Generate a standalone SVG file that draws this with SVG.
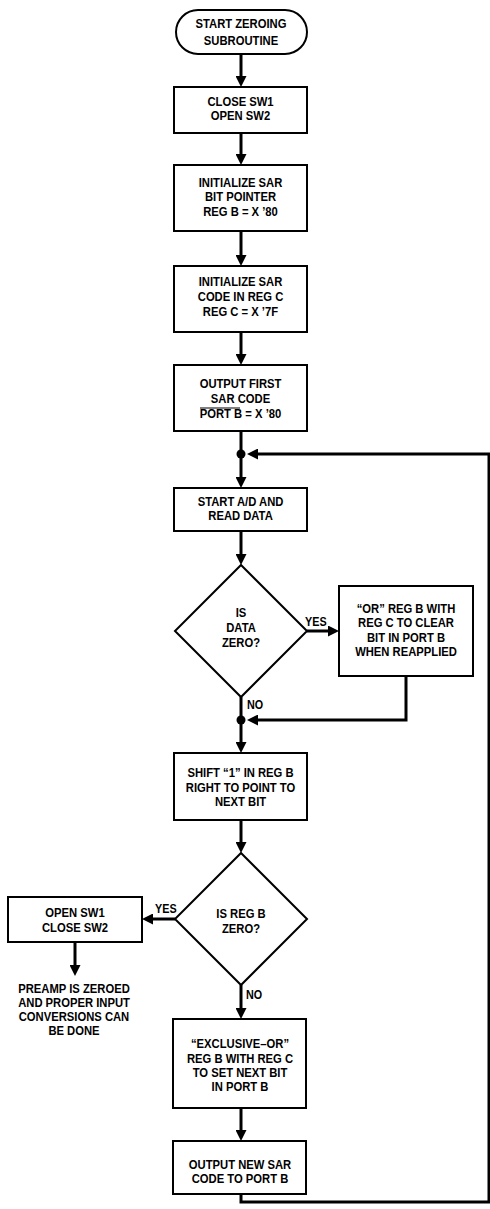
<svg xmlns="http://www.w3.org/2000/svg" width="490" height="1209" viewBox="0 0 490 1209">
<style>
.box{fill:#fff;stroke:#000;stroke-width:2}
.t{font-family:"Liberation Sans",Arial,sans-serif;font-weight:bold;font-size:12.5px;text-anchor:middle;fill:#000;transform-box:fill-box;transform-origin:center;transform:scaleX(0.9)}
.lbl{font-family:"Liberation Sans",Arial,sans-serif;font-weight:bold;font-size:12px;fill:#000;transform-box:fill-box;transform-origin:left center;transform:scaleX(0.9)}
.c{fill:none;stroke:#000;stroke-width:3}
</style>
<defs>
<marker id="ah" viewBox="0 0 11 11" markerWidth="11" markerHeight="11" markerUnits="userSpaceOnUse" refX="7" refY="5.5" orient="auto"><path d="M0,0 L11,5.5 L0,11 z" fill="#000"/></marker>
</defs>
<rect width="490" height="1209" fill="#fff"/>
<g id="connectors">
<line class="c" x1="241" y1="54" x2="241" y2="83" marker-end="url(#ah)"/>
<line class="c" x1="241" y1="133" x2="241" y2="161" marker-end="url(#ah)"/>
<line class="c" x1="241" y1="231" x2="241" y2="262" marker-end="url(#ah)"/>
<line class="c" x1="241" y1="332" x2="241" y2="361" marker-end="url(#ah)"/>
<line class="c" x1="241" y1="431" x2="241" y2="484" marker-end="url(#ah)"/>
<line class="c" x1="241" y1="531" x2="241" y2="561" marker-end="url(#ah)"/>
<line class="c" x1="307" y1="631" x2="335" y2="631" marker-end="url(#ah)"/>
<polyline class="c" points="406,676 406,720 251,720" marker-end="url(#ah)"/>
<line class="c" x1="241" y1="697" x2="241" y2="749" marker-end="url(#ah)"/>
<line class="c" x1="241" y1="820" x2="241" y2="849" marker-end="url(#ah)"/>
<line class="c" x1="175" y1="919" x2="146" y2="919" marker-end="url(#ah)"/>
<line class="c" x1="75" y1="942" x2="75" y2="972" marker-end="url(#ah)"/>
<line class="c" x1="241" y1="985" x2="241" y2="1015" marker-end="url(#ah)"/>
<line class="c" x1="241" y1="1108" x2="241" y2="1137" marker-end="url(#ah)"/>
<polyline class="c" points="241,1194 241,1202 489,1202 489,454 251,454" marker-end="url(#ah)"/>
<circle cx="241" cy="454" r="4.5" fill="#000"/>
<circle cx="241" cy="720" r="4.5" fill="#000"/>
<text class="lbl" x="305" y="626">YES</text>
<text class="lbl" x="247" y="709">NO</text>
<text class="lbl" x="155" y="913">YES</text>
<text class="lbl" x="246" y="999">NO</text>
</g>
<g id="start">
<rect class="box" x="176" y="10" width="131" height="44" rx="22"/>
<text class="t" x="241" y="28">START ZEROING</text>
<text class="t" x="241" y="45">SUBROUTINE</text>
</g>
<g id="close-sw1">
<rect class="box" x="174" y="87" width="133" height="46"/>
<text class="t" x="240.5" y="106">CLOSE SW1</text>
<text class="t" x="240.5" y="120">OPEN SW2</text>
</g>
<g id="init-pointer">
<rect class="box" x="174" y="165" width="133" height="66"/>
<text class="t" x="240.5" y="187">INITIALIZE SAR</text>
<text class="t" x="240.5" y="201">BIT POINTER</text>
<text class="t" x="240.5" y="216">REG B = X ’80</text>
</g>
<g id="init-code">
<rect class="box" x="174" y="266" width="133" height="66"/>
<text class="t" x="240.5" y="286">INITIALIZE SAR</text>
<text class="t" x="240.5" y="301">CODE IN REG C</text>
<text class="t" x="240.5" y="316">REG C = X ’7F</text>
</g>
<g id="output-first">
<rect class="box" x="174" y="365" width="133" height="66"/>
<text class="t" x="240.5" y="388">OUTPUT FIRST</text>
<text class="t" x="240.5" y="403">SAR CODE</text>
<text class="t" x="240.5" y="418">PORT B = X ’80</text>
<line x1="200" y1="408" x2="240" y2="408" stroke="#000" stroke-width="1.2"/>
</g>
<g id="start-ad">
<rect class="box" x="174" y="488" width="133" height="43"/>
<text class="t" x="240.5" y="506">START A/D AND</text>
<text class="t" x="240.5" y="520">READ DATA</text>
</g>
<g id="is-data-zero">
<polygon class="box" points="241,565 307,631 241,697 175,631"/>
<text class="t" x="241" y="617">IS</text>
<text class="t" x="241" y="632">DATA</text>
<text class="t" x="241" y="647">ZERO?</text>
</g>
<g id="or-reg">
<rect class="box" x="339" y="586" width="134" height="90"/>
<text class="t" x="406" y="613">“OR” REG B WITH</text>
<text class="t" x="406" y="627">REG C TO CLEAR</text>
<text class="t" x="406" y="642">BIT IN PORT B</text>
<text class="t" x="406" y="656">WHEN REAPPLIED</text>
</g>
<g id="shift">
<rect class="box" x="174" y="753" width="133" height="67"/>
<text class="t" x="240.5" y="777">SHIFT “1” IN REG B</text>
<text class="t" x="240.5" y="792">RIGHT TO POINT TO</text>
<text class="t" x="240.5" y="806">NEXT BIT</text>
</g>
<g id="is-regb-zero">
<polygon class="box" points="241,853 307,919 241,985 175,919"/>
<text class="t" x="241" y="918">IS REG B</text>
<text class="t" x="241" y="933">ZERO?</text>
</g>
<g id="open-sw1">
<rect class="box" x="8" y="897" width="134" height="45"/>
<text class="t" x="75" y="917">OPEN SW1</text>
<text class="t" x="75" y="932">CLOSE SW2</text>
</g>
<g id="preamp-zeroed">
<text class="t" x="74" y="993">PREAMP IS ZEROED</text>
<text class="t" x="74" y="1007">AND PROPER INPUT</text>
<text class="t" x="74" y="1021">CONVERSIONS CAN</text>
<text class="t" x="74" y="1035">BE DONE</text>
</g>
<g id="xor">
<rect class="box" x="173" y="1019" width="133" height="89"/>
<text class="t" x="240" y="1048">“EXCLUSIVE–OR”</text>
<text class="t" x="240" y="1063">REG B WITH REG C</text>
<text class="t" x="240" y="1077">TO SET NEXT BIT</text>
<text class="t" x="240" y="1091">IN PORT B</text>
</g>
<g id="output-new">
<rect class="box" x="173" y="1141" width="133" height="53"/>
<text class="t" x="240" y="1169">OUTPUT NEW SAR</text>
<text class="t" x="240" y="1183">CODE TO PORT B</text>
</g>
</svg>
